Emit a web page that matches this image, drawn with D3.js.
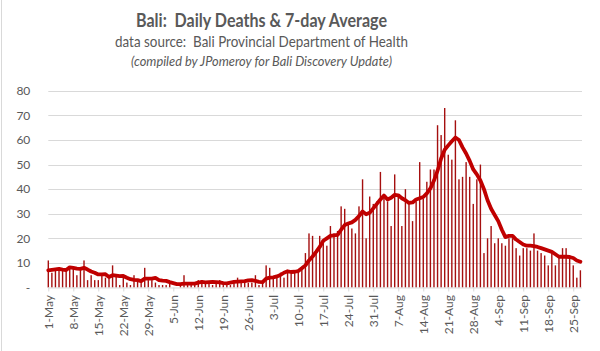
<!DOCTYPE html>
<html>
<head>
<meta charset="utf-8">
<script src="https://cdn.jsdelivr.net/npm/d3@7"></script>
<style>
    body { margin: 0; background: #fff; }
    svg { display: block; font-family: Lato, 'Open Sans', sans-serif; }
</style>
</head>
<body>
<svg id="chart"></svg>
<script>
// first day of the series (1 May 2021), one value per day after that
const startDate = new Date(Date.UTC(2021, 4, 1));

const dailyDeaths = [
    11, 6, 7, 8, 7, 7, 8, 8, 5, 8,
    11, 3, 5, 3, 3, 5, 4, 4, 9, 5,
    1, 4, 2, 1, 5, 3, 2, 8, 3, 3,
    2, 1, 1, 1, 2, 0, 0, 1, 5, 1,
    2, 1, 3, 3, 2, 2, 1, 2, 3, 1,
    2, 1, 2, 4, 2, 3, 2, 2, 5, 1,
    2, 9, 8, 4, 5, 6, 4, 7, 7, 6,
    7, 8, 14, 22, 21, 14, 21, 19, 17, 25,
    22, 23, 33, 32, 26, 24, 22, 33, 44, 20,
    37, 34, 35, 47, 38, 35, 25, 46, 38, 25,
    40, 35, 27, 35, 51, 36, 43, 48, 48, 66,
    62, 73, 54, 52, 68, 44, 45, 51, 45, 34,
    44, 50, 14, 20, 25, 18, 20, 18, 17, 20,
    20, 16, 13, 16, 16, 15, 22, 15, 14, 13,
    9, 14, 9, 13, 16, 16, 13, 9, 4, 7
];

const sevenDayAvg = [
    7.0, 7.2, 7.4, 7.6, 7.3, 7.1, 8.2, 8.0, 7.7, 7.6,
    8.0, 7.3, 6.5, 6.0, 5.3, 5.3, 5.4, 4.3, 5.0, 4.8,
    4.6, 4.7, 4.0, 3.4, 3.1, 3.0, 2.6, 3.6, 3.6, 3.6,
    3.9, 3.0, 2.8, 2.7, 2.2, 1.8, 1.4, 1.4, 1.6, 1.6,
    1.6, 1.6, 2.0, 2.3, 2.1, 2.2, 2.3, 2.2, 2.1, 1.8,
    1.7, 2.0, 2.3, 2.4, 2.5, 2.6, 2.9, 3.0, 2.7, 2.3,
    2.2, 3.6, 4.0, 4.1, 4.5, 5.1, 6.0, 6.6, 6.3, 6.4,
    6.7, 7.8, 9.0, 11.0, 12.6, 14.5, 16.5, 19.0, 20.0, 21.0,
    21.2, 21.4, 23.5, 25.4, 26.0, 26.5, 27.5, 29.0, 30.9, 29.8,
    30.4, 32.2, 34.0, 35.8, 37.4, 35.8, 36.5, 37.7, 37.5, 36.3,
    35.5, 34.4, 34.6, 35.8, 36.3, 36.8, 38.3, 40.3, 43.5, 47.5,
    52.5, 56.0, 57.8, 59.5, 61.0, 60.0, 57.0, 54.5, 51.5, 48.0,
    46.0, 43.5, 40.0, 35.5, 32.0, 29.5, 27.0, 23.5, 20.5, 21.0,
    21.0, 19.5, 18.5, 17.5, 17.0, 17.0, 16.8, 16.5, 16.0, 15.5,
    15.0, 14.5, 13.5, 12.5, 12.5, 12.5, 12.4, 12.0, 11.0, 10.5
];

// one label every 7 days starting at 1-May
const tickLabels = ['1-May', '8-May', '15-May', '22-May', '29-May', '5-Jun', '12-Jun',
    '19-Jun', '26-Jun', '3-Jul', '10-Jul', '17-Jul', '24-Jul', '31-Jul', '7-Aug',
    '14-Aug', '21-Aug', '28-Aug', '4-Sep', '11-Sep', '18-Sep', '25-Sep'];

const yTicks = [0, 10, 20, 30, 40, 50, 60, 70, 80];

const titleLines = [
    'Bali:  Daily Deaths & 7-day Average',
    'data source:  Bali Provincial Department of Health',
    '(compiled by JPomeroy for Bali Discovery Update)'
];

class deathsChart {

    constructor(_config, _data) {
        this.config = {
            parentElement: _config.parentElement,
            containerWidth: 600,
            containerHeight: 351,
            left: 48.3,
            right: 582,
            top: 90.8,
            bottom: 287.5
        }
        this.data = _data;
        this.initVis();
    }

    initVis() {
        let vis = this;

        vis.svg = d3.select(vis.config.parentElement)
            .attr('width', vis.config.containerWidth)
            .attr('height', vis.config.containerHeight);

        // light chart border on the left edge
        vis.svg.append('line')
            .attr('x1', 1.5).attr('x2', 1.5)
            .attr('y1', 0).attr('y2', vis.config.containerHeight)
            .attr('stroke', '#d9d9d9');

        // titles (double spaces kept as in the original)
        const titleStyle = [
            { y: 26.5, size: 18, weight: 'bold', style: 'normal', len: 251 },
            { y: 46.5, size: 16, weight: 'normal', style: 'normal', len: 293 },
            { y: 65.5, size: 12.5, weight: 'normal', style: 'italic', len: 261 }
        ];
        vis.svg.selectAll('.title')
            .data(titleLines)
            .join('text')
            .attr('class', 'title')
            .attr('x', 261.5)
            .attr('y', (d, i) => titleStyle[i].y)
            .attr('text-anchor', 'middle')
            .attr('fill', '#595959')
            .attr('font-size', (d, i) => titleStyle[i].size)
            .attr('font-weight', (d, i) => titleStyle[i].weight)
            .attr('font-style', (d, i) => titleStyle[i].style)
            .attr('textLength', (d, i) => titleStyle[i].len)
            .attr('lengthAdjust', 'spacingAndGlyphs')
            .style('white-space', 'pre')
            .text(d => d);

        // last drawn day sits a little before the right edge of the plot
        const endDate = new Date(+startDate + 149.45 * 864e5);
        vis.xScale = d3.scaleUtc()
            .domain([startDate, endDate])
            .range([vis.config.left, vis.config.right]);

        vis.yScale = d3.scaleLinear()
            .domain([0, 80])
            .range([vis.config.bottom, vis.config.top]);

        vis.gridG = vis.svg.append('g');
        vis.barsG = vis.svg.append('g');
        vis.xAxisG = vis.svg.append('g')
            .attr('transform', `translate(0,${vis.config.bottom})`);
        vis.lineG = vis.svg.append('g');
        vis.yAxisG = vis.svg.append('g')
            .attr('transform', `translate(${vis.config.left - 18},0)`);

        vis.updateVis();
    }

    updateVis() {
        let vis = this;

        vis.line = d3.line()
            .x(d => vis.xScale(d.date))
            .y(d => vis.yScale(d.avg));

        vis.tickDates = tickLabels.map((t, i) => d3.utcDay.offset(startDate, i * 7));

        vis.xAxis = d3.axisBottom(vis.xScale)
            .tickValues(vis.tickDates)
            .tickFormat((d, i) => tickLabels[i])
            .tickSize(4)
            .tickSizeOuter(0);

        vis.yAxis = d3.axisLeft(vis.yScale)
            .tickValues(yTicks)
            .tickSize(0)
            .tickFormat(d => d === 0 ? '-' : d);

        vis.renderVis();
    }

    renderVis() {
        let vis = this;

        // horizontal gridlines
        vis.gridG.selectAll('line')
            .data(yTicks.filter(d => d > 0))
            .join('line')
            .attr('x1', vis.config.left)
            .attr('x2', vis.config.right)
            .attr('y1', d => Math.round(vis.yScale(d)) + 0.5)
            .attr('y2', d => Math.round(vis.yScale(d)) + 0.5)
            .attr('stroke', '#d9d9d9')
            .attr('stroke-width', 1);

        // daily deaths bars
        const y0 = vis.yScale(0);
        vis.barsG.selectAll('rect')
            .data(vis.data)
            .join('rect')
            .attr('x', d => vis.xScale(d.date) - 0.7)
            .attr('width', 1.4)
            .attr('y', d => vis.yScale(d.deaths))
            .attr('height', d => y0 - vis.yScale(d.deaths))
            .attr('fill', '#a50f0f');

        // 7-day average
        vis.lineG.selectAll('.chart-line')
            .data([vis.data])
            .join('path')
            .attr('class', 'chart-line')
            .attr('d', vis.line)
            .attr('fill', 'none')
            .attr('stroke', '#c00000')
            .attr('stroke-width', 3.8)
            .attr('stroke-linejoin', 'round')
            .attr('stroke-linecap', 'round');

        vis.xAxisG.call(vis.xAxis);
        vis.xAxisG.select('.domain')
            .attr('d', `M${vis.config.left},0.5H${vis.config.right}`)
            .attr('stroke', '#d9d9d9');
        vis.xAxisG.selectAll('.tick line').attr('stroke', '#d9d9d9');
        vis.xAxisG.selectAll('.tick text')
            .attr('transform', 'rotate(-90)')
            .attr('text-anchor', 'end')
            .attr('x', -7.5)
            .attr('y', 0)
            .attr('dy', '0.36em')
            .attr('fill', '#595959')
            .attr('font-size', 12)
            .attr('font-family', "Lato, 'Open Sans', sans-serif");

        vis.yAxisG.call(vis.yAxis);
        vis.yAxisG.select('.domain').remove();
        vis.yAxisG.selectAll('.tick text')
            .attr('x', 0)
            .attr('fill', '#595959')
            .attr('font-size', 12)
            .attr('font-family', "Lato, 'Open Sans', sans-serif");
    }
}

const chartData = dailyDeaths.map((v, i) => ({
    date: d3.utcDay.offset(startDate, i),
    deaths: v,
    avg: sevenDayAvg[i]
}));

new deathsChart({ parentElement: '#chart' }, chartData);
</script>
</body>
</html>
